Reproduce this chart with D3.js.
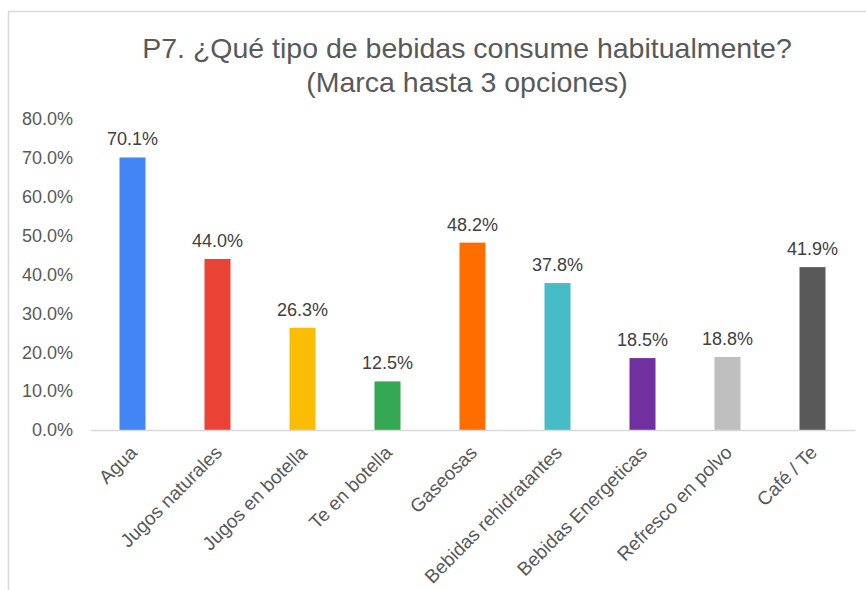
<!DOCTYPE html>
<html>
<head>
<meta charset="utf-8">
<script src="https://cdn.jsdelivr.net/npm/d3@7"></script>
<style>
  body { margin: 0; background: #fff; }
  svg { display: block; font-family: Arial, "Liberation Sans", sans-serif; }
</style>
</head>
<body>
<div id="chart"></div>
<script>
// datos del gráfico
const categories = ['Agua', 'Jugos naturales', 'Jugos en botella', 'Te en botella', 'Gaseosas',
  'Bebidas rehidratantes', 'Bebidas Energeticas', 'Refresco en polvo', 'Café / Te'];
const values = [70.1, 44.0, 26.3, 12.5, 48.2, 37.8, 18.5, 18.8, 41.9];
const barColors = ['#4285F4', '#EA4335', '#FBBC04', '#34A853', '#FF6D01',
  '#46BDC6', '#7030A0', '#BFBFBF', '#595959'];
const yTicks = [0, 10, 20, 30, 40, 50, 60, 70, 80];

const width = 866, height = 590;
const margin = { left: 90, right: 11, top: 119, bottom: 160 };

const svg = d3.select('#chart').append('svg')
  .attr('width', width)
  .attr('height', height);

// marco del gráfico
svg.append('rect')
  .attr('x', 8.5).attr('y', 11.5)
  .attr('width', 900).attr('height', 700)
  .attr('fill', 'none')
  .attr('stroke', '#d9d9d9')
  .attr('stroke-width', 1.5);

// título
const title = svg.append('text')
  .attr('text-anchor', 'middle')
  .attr('fill', '#595959')
  .style('font-size', '28.5px');
title.append('tspan').attr('x', 467).attr('y', 58)
  .text('P7. ¿Qué tipo de bebidas consume habitualmente?');
title.append('tspan').attr('x', 467).attr('y', 92)
  .text('(Marca hasta 3 opciones)');

const x = d3.scaleBand()
  .domain(categories)
  .range([margin.left, width - margin.right])
  .paddingInner(0.694)
  .paddingOuter(0.347);

const y = d3.scaleLinear()
  .domain([0, 80])
  .range([height - margin.bottom, margin.top]);

// eje Y
const yAxis = svg.append('g')
  .attr('transform', `translate(${margin.left - 17},0)`)
  .call(d3.axisLeft(y).tickValues(yTicks).tickFormat(d => d.toFixed(1) + '%').tickSize(0));
yAxis.select('.domain').remove();
yAxis.selectAll('text')
  .attr('fill', '#595959')
  .attr('x', 0)
  .style('font-size', '18px')
  .style('font-family', 'Arial, "Liberation Sans", sans-serif');

// barras
svg.append('g')
  .selectAll('rect')
  .data(values)
  .join('rect')
  .attr('x', (d, i) => x(categories[i]))
  .attr('y', d => y(d))
  .attr('width', x.bandwidth())
  .attr('height', d => y(0) - y(d))
  .attr('fill', (d, i) => barColors[i]);

// etiquetas de datos
svg.append('g')
  .selectAll('text')
  .data(values)
  .join('text')
  .attr('x', (d, i) => x(categories[i]) + x.bandwidth() / 2)
  .attr('y', d => y(d) - 12)
  .attr('text-anchor', 'middle')
  .attr('fill', '#404040')
  .style('font-size', '18px')
  .text(d => d.toFixed(1) + '%');

// eje X
const xAxis = svg.append('g')
  .attr('transform', `translate(0,${y(0)})`)
  .call(d3.axisBottom(x).tickSize(0).tickSizeOuter(0));
xAxis.select('.domain')
  .attr('stroke', '#d9d9d9')
  .attr('stroke-width', 1.5);
xAxis.selectAll('text')
  .attr('fill', '#595959')
  .style('font-size', '19px')
  .style('font-family', 'Arial, "Liberation Sans", sans-serif')
  .attr('text-anchor', 'end')
  .attr('dy', '0.35em')
  .attr('transform', 'translate(1,19) rotate(-45)')
  .attr('y', 0);
</script>
</body>
</html>
